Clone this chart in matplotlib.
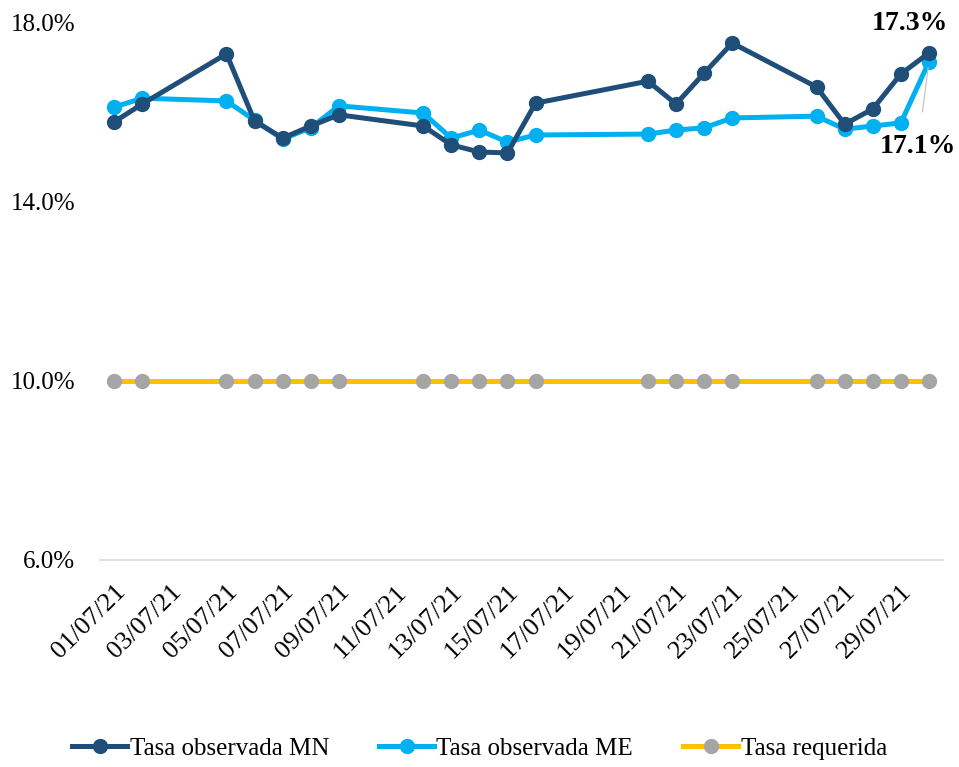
import numpy as np
import matplotlib
matplotlib.use("Agg")
import matplotlib.pyplot as plt

plt.rcParams['font.family'] = ['Liberation Serif', 'DejaVu Serif']

days = [1, 2, 5, 6, 7, 8, 9, 12, 13, 14, 15, 16, 20, 21, 22, 23, 26, 27, 28, 29, 30]

tasa_mn = [15.77, 16.17, 17.29, 15.79, 15.41, 15.68, 15.93, 15.68, 15.26, 15.10, 15.08,
           16.19, 16.68, 16.17, 16.86, 17.53, 16.55, 15.72, 16.06, 16.84, 17.31]
tasa_me = [16.10, 16.30, 16.24, 15.81, 15.39, 15.64, 16.13, 15.97, 15.41, 15.59, 15.32,
           15.48, 15.50, 15.59, 15.64, 15.86, 15.90, 15.61, 15.68, 15.75, 17.11]
tasa_req = [10.0] * len(days)

tick_days = list(range(1, 30, 2))
tick_labels = ["%02d/07/21" % d for d in tick_days]
y_ticks = [6, 10, 14, 18]

fig = plt.figure(figsize=(9.59, 7.67), dpi=100)
ax = fig.add_axes([100 / 959, 1 - 560 / 767, 843 / 959, 538 / 767])

ax.plot(days, tasa_mn, color="#1F4E79", lw=3.6, marker="o", ms=10, label="Tasa observada MN", zorder=4)
ax.plot(days, tasa_me, color="#00B0F0", lw=3.6, marker="o", ms=10, label="Tasa observada ME", zorder=3)
ax.plot(days, tasa_req, color="#FFC000", lw=3.6, marker="o", ms=10, mfc="#A5A5A5", mec="#A5A5A5",
        label="Tasa requerida", zorder=2)

ax.set_xlim(0.5, 30.5)
ax.set_ylim(6, 18)
ax.set_yticks(y_ticks)
ax.set_yticklabels(["%.1f%%" % v for v in y_ticks], fontsize=18)
ax.set_xticks(tick_days)
ax.set_xticklabels(tick_labels, rotation=45, ha="right", rotation_mode="anchor", fontsize=19)
ax.tick_params(axis="both", length=0)
ax.tick_params(axis="y", pad=18)
ax.tick_params(axis="x", pad=15)

for s in ["top", "right", "left"]:
    ax.spines[s].set_visible(False)
ax.spines["bottom"].set_color("#D9D9D9")
ax.spines["bottom"].set_linewidth(1.2)

ax.annotate("%.1f%%" % tasa_mn[-1], (days[-1], tasa_mn[-1]), xytext=(-14, 12), textcoords="offset points",
            ha="center", va="bottom", fontsize=20, fontweight="bold", annotation_clip=False)
ax.annotate("%.1f%%" % tasa_me[-1], (days[-1], tasa_me[-1]), xytext=(-8, -61), textcoords="offset points",
            ha="center", va="center", fontsize=20, fontweight="bold", annotation_clip=False,
            arrowprops=dict(arrowstyle="-", color="#BFBFBF", lw=0.8, shrinkA=14, shrinkB=4))

fig.legend(loc="lower center", bbox_to_anchor=(0.5, -0.02), ncol=3, frameon=False, fontsize=18,
           handlelength=2.2, handletextpad=0.1, columnspacing=2.0)

fig.savefig("out.png", dpi=100)
